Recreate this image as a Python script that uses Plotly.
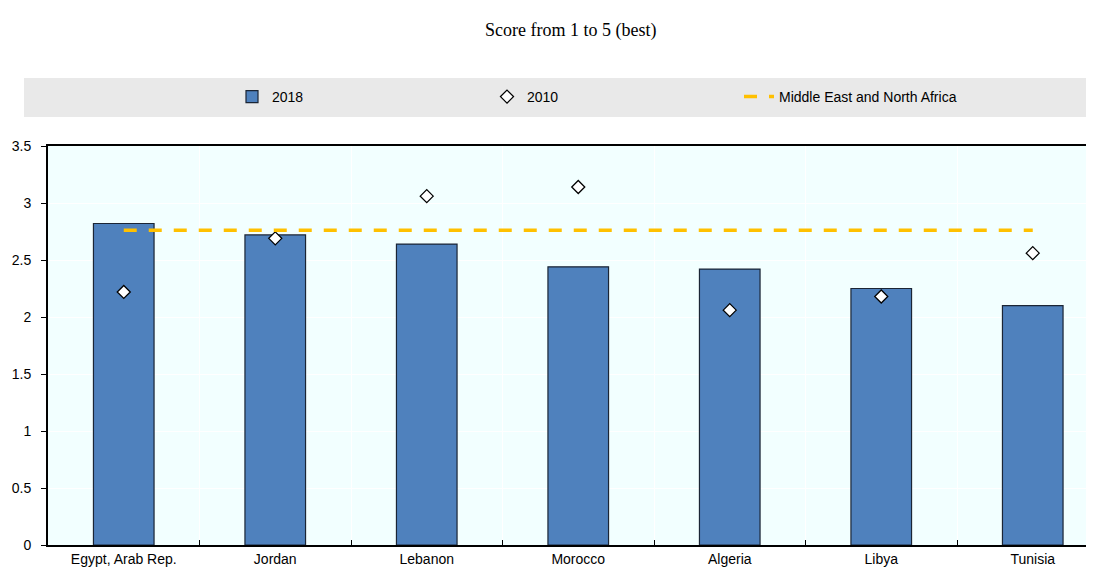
import plotly.graph_objects as go

categories = ["Egypt, Arab Rep.", "Jordan", "Lebanon", "Morocco", "Algeria", "Libya", "Tunisia"]
score_2018 = [2.82, 2.72, 2.64, 2.44, 2.42, 2.25, 2.10]
score_2010 = [2.22, 2.69, 3.06, 3.14, 2.06, 2.18, 2.56]
mena_avg = [2.76] * len(categories)
y_ticks = [0, 0.5, 1, 1.5, 2, 2.5, 3, 3.5]
y_tick_labels = ["0", "0.5", "1", "1.5", "2", "2.5", "3", "3.5"]

font_main = "Liberation Sans Narrow, Arial Narrow, Liberation Sans, Arial, sans-serif"

OFF = 8  # page offset of the figure (body margin)
W, H = 1094, 567
L, T, R = 48 - OFF, 146 - OFF, 0
B = H - (545 - OFF)
PW = W - L - R
PH = H - T - B
CAT_PX = 151.5  # pixel width of one category slot
X_MAX = -0.5 + PW / CAT_PX


def px_x(p):
    return (p - OFF - L) / PW


def px_y(p):
    return (H - B - (p - OFF)) / PH


fig = go.Figure()
fig.add_trace(go.Bar(
    x=categories, y=score_2018, name="2018", width=0.4, legend="legend",
    marker=dict(color="#4F81BD", line=dict(color="#1b2535", width=1.2)),
))
fig.add_trace(go.Scatter(
    x=categories, y=score_2010, name="2010", mode="markers", legend="legend2",
    marker=dict(symbol="diamond", size=10, color="white", line=dict(color="black", width=1.3)),
))
fig.add_trace(go.Scatter(
    x=categories, y=mena_avg, name="Middle East and North Africa", mode="lines", legend="legend3",
    line=dict(color="#FFC000", width=3.5, dash="13px,12px"),
))

leg_common = dict(orientation="h", yanchor="middle", xanchor="left",
                  bgcolor="rgba(0,0,0,0)", font=dict(family=font_main, size=14))

fig.update_layout(
    width=W, height=H,
    margin=dict(l=L, r=R, t=T, b=B, autoexpand=False),
    paper_bgcolor="white",
    plot_bgcolor="#F2FFFF",
    font=dict(family=font_main, size=14, color="black"),
    showlegend=True,
    legend=dict(x=px_x(232), y=px_y(97), **leg_common),
    legend2=dict(x=px_x(487), y=px_y(97), **leg_common),
    legend3=dict(x=px_x(739), y=px_y(97), **leg_common),
    bargap=0.6,
    shapes=[dict(
        type="rect", xref="paper", yref="paper",
        x0=px_x(24), x1=1.0, y0=px_y(117), y1=px_y(78),
        fillcolor="#E9E9E9", line=dict(width=0), layer="below",
    )],
    annotations=[dict(
        text="Score from 1 to 5 (best)", xref="paper", yref="paper",
        x=px_x(570), y=px_y(30), xanchor="center", yanchor="middle", showarrow=False,
        font=dict(family="Liberation Serif, Times New Roman, serif", size=18),
    )],
)

fig.update_xaxes(
    range=[-0.5, X_MAX], automargin=False,
    showline=True, linecolor="black", linewidth=2, mirror=True,
    ticks="inside", ticklen=5, tickcolor="black", tickson="boundaries",
    showgrid=True, gridcolor="white", gridwidth=1,
    tickfont=dict(family=font_main, size=14), ticklabelstandoff=0,
)
fig.update_yaxes(
    range=[0, 3.5], tickvals=y_ticks, ticktext=y_tick_labels, automargin=False,
    showline=True, linecolor="black", linewidth=2,
    ticks="outside", ticklen=5, tickcolor="black",
    showgrid=True, gridcolor="white", gridwidth=1, zeroline=False,
    tickfont=dict(family=font_main, size=14), ticklabelstandoff=7,
)

fig.write_html("out.html")
